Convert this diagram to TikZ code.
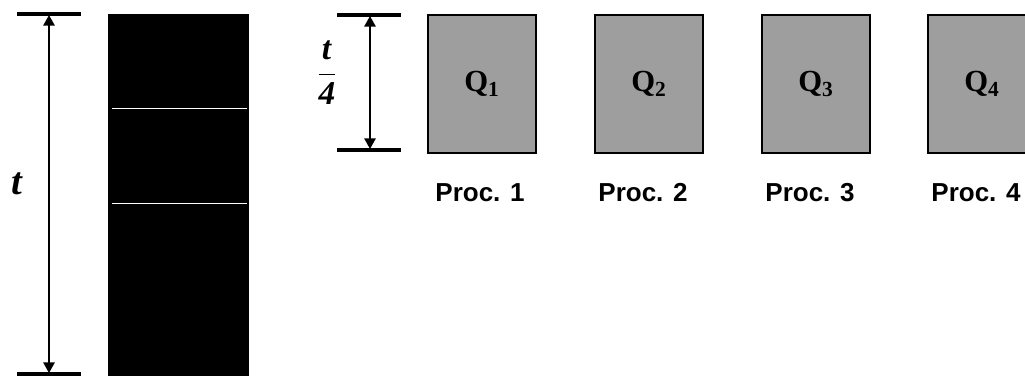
\documentclass[tikz,border=0pt]{standalone}
\usepackage{fontspec}
\setmainfont{Liberation Serif}
\newfontfamily\procfont{Liberation Sans}
\usepackage{tikz}
\usetikzlibrary{arrows.meta}

\tikzset{
  qbox/.style={draw=black, line width=2pt, fill=black!38, minimum width=81pt, minimum height=103.5pt, inner sep=0pt, font=\bfseries\fontsize{23}{23}\selectfont},
  proclbl/.style={anchor=base, font=\procfont\bfseries\fontsize{19.5}{19.5}\selectfont},
  dimbar/.style={line width=2.4pt},
  dimarrow/.style={<->, line width=1.5pt},
  tlbl/.style={font=\bfseries\itshape\fontsize{29}{29}\selectfont}
}

\begin{document}
\begin{tikzpicture}[x=0.75pt, y=-0.75pt, >={Triangle[length=8pt,width=8.5pt]}] % pixel units, y pointing down
  \useasboundingbox (0,0) rectangle (1025,376);

  % whole task on one processor
  \fill[black] (108,14) rectangle (249,376);
  \draw[white, line width=0.7pt] (112,108) -- (247,108);
  \draw[white, line width=0.5pt] (112,203) -- (247,203);
  \draw[dimbar] (17,14) -- (81,14);
  \draw[dimbar] (17,374) -- (81,374);
  \coordinate (ttop) at (49,15);
  \coordinate (tbot) at (49,373);
  \draw[dimarrow] (ttop) -- (tbot);
  \node[tlbl] (tfull) at (17,184) {t};

  % quarter of the time
  \draw[dimbar] (337,15) -- (401,15);
  \draw[dimbar] (337,150) -- (401,150);
  \coordinate (qtop) at (370,16);
  \coordinate (qbot) at (370,149);
  \draw[dimarrow] (qtop) -- (qbot);
  \node[font=\bfseries\fontsize{25}{25}\selectfont] (tquart) at (327,73) {$\displaystyle\frac{\textbf{\textit{t}}}{\textbf{\textit{4}}}$};

  % the four parts
  \node[qbox] (q1) at (482,84) {Q\textsubscript{1}};
  \node[qbox] (q2) at (649,84) {Q\textsubscript{2}};
  \node[qbox] (q3) at (816,84) {Q\textsubscript{3}};
  \node[qbox] (q4) at (982,84) {Q\textsubscript{4}};

  \node[proclbl] (p1) at (480,201) {Proc. 1};
  \node[proclbl] (p2) at (643,201) {Proc. 2};
  \node[proclbl] (p3) at (810,201) {Proc. 3};
  \node[proclbl] (p4) at (976,201) {Proc. 4};
\end{tikzpicture}
\end{document}
